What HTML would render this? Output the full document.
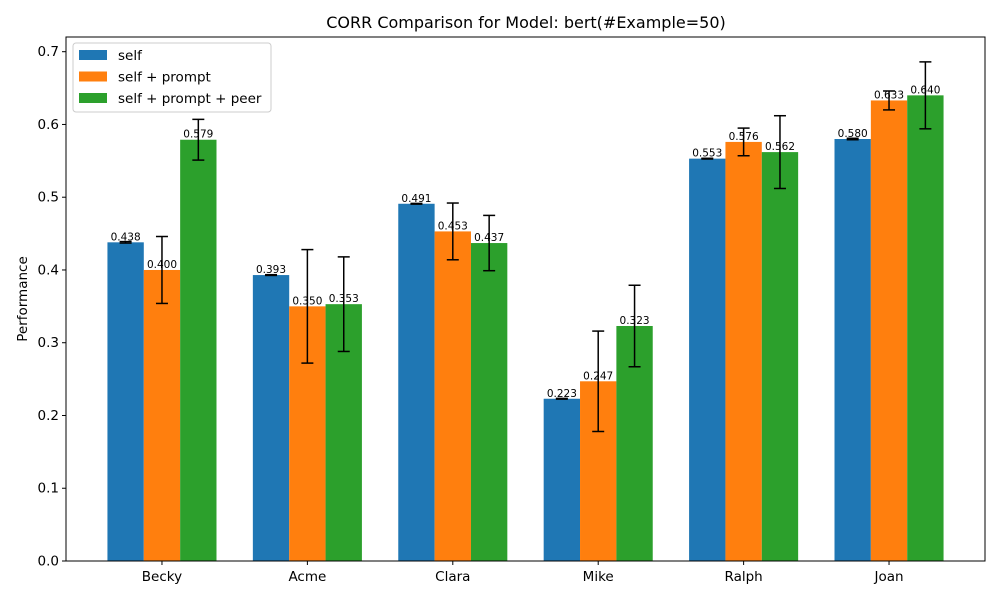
<!DOCTYPE html>
<html><head><meta charset="utf-8"><style>
body{margin:0;background:#fff}
svg{display:block;font-family:"DejaVu Sans","Liberation Sans",sans-serif}
</style></head><body>
<svg id="chart" width="1000" height="600" viewBox="0 0 1000 600">
<rect x="0" y="0" width="1000" height="600" fill="#fff"/>
<text x="526" y="28" text-anchor="middle" font-size="16">CORR Comparison for Model: bert(#Example=50)</text>
<text transform="translate(27,299) rotate(-90)" text-anchor="middle" font-size="13.5">Performance</text>
<g id="plot"></g>
</svg>
<script>
const categories=["Becky","Acme","Clara","Mike","Ralph","Joan"];
const seriesNames=["self","self + prompt","self + prompt + peer"];
const selfVals=[0.438,0.393,0.491,0.223,0.553,0.580];
const promptVals=[0.400,0.350,0.453,0.247,0.576,0.633];
const peerVals=[0.579,0.353,0.437,0.323,0.562,0.640];
const selfErr=[0.001,0.0005,0.0005,0.0005,0.0005,0.001];
const promptErr=[0.046,0.078,0.039,0.069,0.019,0.013];
const peerErr=[0.028,0.065,0.038,0.056,0.050,0.046];
const yTicks=[0,0.1,0.2,0.3,0.4,0.5,0.6,0.7];
const colors=["#1f77b4","#ff7f0e","#2ca02c"];
const L=66,R=985,T=37,B=561;
const ymax=0.7202;
const y=v=>B-(v/ymax)*(B-T);
const x=i=>L+(i+0.66)/6.32*(R-L);
const step=x(1)-x(0), bw=step*0.25;
const NS="http://www.w3.org/2000/svg";
const g=document.getElementById('plot');
function mk(t,a,p){const e=document.createElementNS(NS,t);for(const k in a)e.setAttribute(k,a[k]);(p||g).appendChild(e);return e;}
const vals=[selfVals,promptVals,peerVals], errs=[selfErr,promptErr,peerErr];
vals.forEach((sv,s)=>{
  sv.forEach((v,i)=>{
    const cx=x(i)+(s-1)*bw;
    const r=mk('rect',{x:cx-bw/2,y:y(v),width:bw,height:B-y(v),fill:colors[s]});
    
    
    const e=errs[s][i];
    const eg=mk('g',{stroke:'#000','stroke-width':1.5});
    
    
    mk('line',{x1:cx,x2:cx,y1:y(v-e),y2:y(v+e)},eg);
    mk('line',{x1:cx-6,x2:cx+6,y1:y(v-e),y2:y(v-e)},eg);
    mk('line',{x1:cx-6,x2:cx+6,y1:y(v+e),y2:y(v+e)},eg);
    const t=mk('text',{x:cx,y:y(v)-2,'text-anchor':'middle','font-size':10.5});
    t.textContent=v.toFixed(3);
    
    
  });
});
mk('rect',{x:L,y:T,width:R-L,height:B-T,fill:'none',stroke:'#000','stroke-width':1});
yTicks.forEach(v=>{
  mk('line',{x1:L-4,x2:L,y1:y(v),y2:y(v),stroke:'#000'});
  const t=mk('text',{x:L-7,y:y(v)+4.5,'text-anchor':'end','font-size':13.5});
  t.textContent=v.toFixed(1);
  
  
});
categories.forEach((c,i)=>{
  mk('line',{x1:x(i),x2:x(i),y1:B,y2:B+4,stroke:'#000'});
  const t=mk('text',{x:x(i),y:B+20,'text-anchor':'middle','font-size':13.5});
  t.textContent=c;
  
  
});
const lg=mk('g',{});


mk('rect',{x:73,y:43,width:198,height:69,rx:3,fill:'#fff',stroke:'#ccc'},lg);
seriesNames.forEach((n,s)=>{
  const ey=50+s*21.5;
  const e=mk('g',{},lg);
  
  
  mk('rect',{x:79,y:ey,width:28,height:10,fill:colors[s]},e);
  const t=mk('text',{x:118,y:ey+10,'font-size':13.5},e);
  t.textContent=n;
});
</script>
</body></html>
